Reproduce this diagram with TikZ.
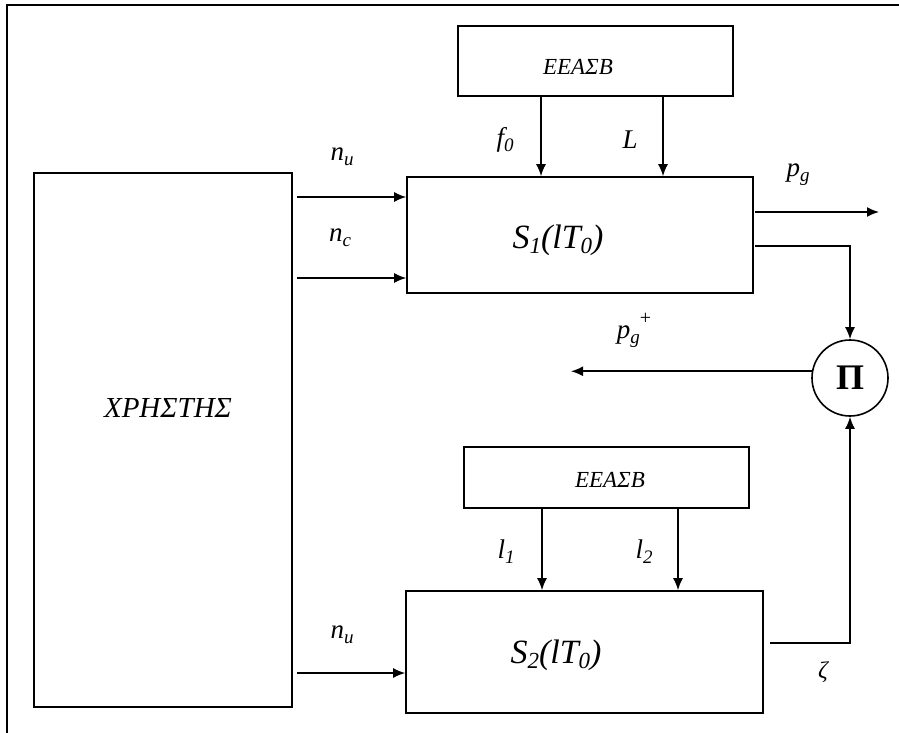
\documentclass[tikz,border=0pt]{standalone}
\usepackage{fontspec}
\setmainfont{Liberation Serif}
\usetikzlibrary{arrows.meta}
\newcommand\lsb[2][19]{\raisebox{-5pt}{\fontsize{#1}{#1}\selectfont #2}}
\begin{document}
\begin{tikzpicture}[x=1pt,y=-1pt,
  box/.style={draw,line width=1.6pt,rectangle,inner sep=0pt},
  arr/.style={line width=1.6pt,-{Latex[length=12pt,width=10pt]}},
  lbl/.style={inner sep=0pt,font=\fontsize{27}{30}\selectfont\itshape},
  ttl/.style={inner sep=0pt,font=\fontsize{23}{26}\selectfont\itshape},
  big/.style={inner sep=0pt,font=\fontsize{34}{38}\selectfont\itshape}]
\useasboundingbox (0,0) rectangle (899,733);
% frame
\coordinate (frTL) at (7,5);
\coordinate (frTR) at (899,5);
\coordinate (frBL) at (7,733);
\draw[line width=2pt] (frBL) -- (frTL) -- (frTR);
% boxes
\node[box,minimum width=258pt,minimum height=534pt] (user) at (163,440) {};
\node[box,minimum width=346pt,minimum height=116pt] (s1) at (580,235) {};
\node[box,minimum width=275pt,minimum height=70pt] (e1) at (595.5,61) {};
\node[box,minimum width=285pt,minimum height=61pt] (e2) at (606.5,477.5) {};
\node[box,minimum width=357pt,minimum height=122pt] (s2) at (584.5,652) {};
\node[draw,circle,line width=1.6pt,minimum size=76pt,inner sep=0pt,
      font=\fontsize{36}{40}\selectfont\bfseries] (pi) at (850,378) {Π};
% texts in boxes
\node[inner sep=0pt,font=\fontsize{29}{32}\selectfont\itshape] (usertxt) at (168,408) {ΧΡΗΣΤΗΣ};
\node[big] (s1txt) at (558,240) {S\lsb[23]{1}(lT\lsb[23]{0})};
\node[big] (s2txt) at (556,655) {S\lsb[23]{2}(lT\lsb[23]{0})};
\node[ttl] (e1txt) at (578,67) {ΕΕΑΣΒ};
\node[ttl] (e2txt) at (610,480) {ΕΕΑΣΒ};
% coordinates for free ends
\coordinate (nu1s) at (297,197);
\coordinate (ncs) at (297,278);
\coordinate (nu2s) at (297,673);
\coordinate (f0x) at (541,0);
\coordinate (Lx) at (663,0);
\coordinate (l1x) at (542,0);
\coordinate (l2x) at (678,0);
\coordinate (pgs) at (755,212);
\coordinate (pge) at (879,212);
\coordinate (s1o) at (755,246);
\coordinate (s2o) at (770,643);
\coordinate (pgpe) at (571,0);
% connectors
\draw[arr] (nu1s) -- (s1.west |- nu1s);
\draw[arr] (ncs) -- (s1.west |- ncs);
\draw[arr] (nu2s) -- (s2.west |- nu2s);
\draw[arr] (e1.south -| f0x) -- (s1.north -| f0x);
\draw[arr] (e1.south -| Lx) -- (s1.north -| Lx);
\draw[arr] (e2.south -| l1x) -- (s2.north -| l1x);
\draw[arr] (e2.south -| l2x) -- (s2.north -| l2x);
\draw[arr] (pgs) -- (pge);
\draw[arr] (s1o) -| (pi.north);
\draw[arr] (s2o) -| (pi.south);
\draw[arr] (pi.170) -- (pi.170 -| pgpe);
% labels
\node[lbl] (lnu1) at (342,157) {n\lsb{u}};
\node[lbl] (lnc) at (340,238) {n\lsb{c}};
\node[lbl] (lnu2) at (342,635) {n\lsb{u}};
\node[lbl] (lf0) at (505,140) {f\lsb{0}};
\node[lbl] (lL) at (630,140) {L};
\node[lbl] (lpg) at (798,175) {p\lsb{g}};
\node[lbl] (lpgp) at (634,330) {p\lsb{g}\raisebox{14pt}{\fontsize{20}{20}\selectfont\upshape +}};
\node[lbl] (ll1) at (506,552) {l\lsb{1}};
\node[lbl] (ll2) at (644,552) {l\lsb{2}};
\node[inner sep=0pt,font=\fontsize{24}{26}\selectfont\itshape] (lz) at (823,672) {ζ};
\end{tikzpicture}
\end{document}
